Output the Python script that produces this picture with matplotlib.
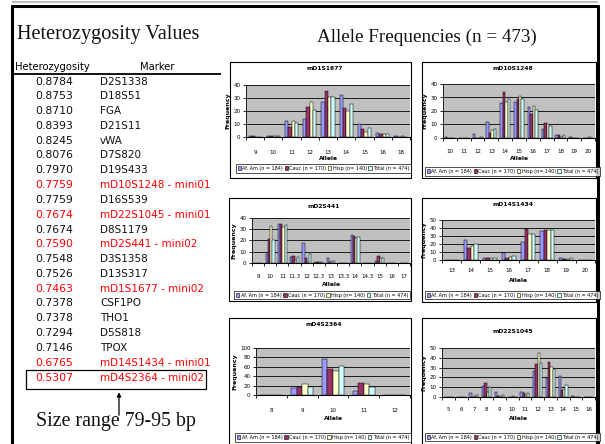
import matplotlib
matplotlib.use("Agg")
import matplotlib.pyplot as plt
from matplotlib.patches import Rectangle
from matplotlib.lines import Line2D
import numpy as np

W, H = 605, 444

# ---------------- table data ----------------
het_values = ["0.8784", "0.8753", "0.8710", "0.8393", "0.8245", "0.8076", "0.7970",
              "0.7759", "0.7759", "0.7674", "0.7674", "0.7590", "0.7548", "0.7526",
              "0.7463", "0.7378", "0.7378", "0.7294", "0.7146", "0.6765", "0.5307"]
het_markers = ["D2S1338", "D18S51", "FGA", "D21S11", "vWA", "D7S820", "D19S433",
               "mD10S1248 - mini01", "D16S539", "mD22S1045 - mini01", "D8S1179",
               "mD2S441 - mini02", "D3S1358", "D13S317", "mD1S1677 - mini02",
               "CSF1PO", "THO1", "D5S818", "TPOX", "mD14S1434 - mini01",
               "mD4S2364 - mini02"]

series_names = ["Af. Am (n = 184)", "Cauc (n = 170)", "Hisp (n= 140)", "Total (n = 474)"]

# ---------------- chart data ----------------
d1s1677_alleles = ["9", "10", "11", "12", "13", "14", "15", "16", "18"]
d1s1677_afam = [0.5, 0.5, 12, 14, 27, 32, 10, 3, 0.5]
d1s1677_cauc = [0.5, 1, 8, 23, 35, 22, 6, 2, 0.3]
d1s1677_hisp = [0.3, 1, 12, 27, 31, 20, 4, 2, 0.5]
d1s1677_total = [0.3, 0.5, 11, 21, 31, 25, 7, 2, 0.3]

d10s1248_alleles = ["10", "11", "12", "13", "14", "15", "16", "17", "18", "19", "20"]
d10s1248_afam = [0.5, 0.3, 3, 12, 26, 27, 23, 7, 2, 0.5, 0]
d10s1248_cauc = [0.3, 0, 0, 4, 34, 29, 18, 11, 2, 0, 0]
d10s1248_hisp = [0, 0, 0, 6, 27, 31, 24, 10, 1, 0, 0.5]
d10s1248_total = [0.3, 0, 1, 7, 29, 29, 21, 9, 2, 0.3, 0.3]

d2s441_alleles = ["9", "10", "11", "11.3", "12", "12.3", "13", "13.3", "14", "14.3", "15", "16", "17"]
d2s441_afam = [0.3, 8, 35, 5, 18, 0.5, 4, 0, 25, 0, 2, 0.3, 0]
d2s441_cauc = [0, 21, 35, 6, 4, 0.5, 1, 0, 24, 0, 6, 0, 0]
d2s441_hisp = [0, 33, 32, 3, 1, 0.5, 2, 0, 22, 0, 4, 0, 0.3]
d2s441_total = [0.2, 20, 34, 5, 8, 0.5, 2, 0.3, 23, 0.3, 4, 0.2, 0.2]

d14s1434_alleles = ["13", "14", "15", "16", "17", "18", "19", "20"]
d14s1434_afam = [0.5, 25, 2, 9, 23, 36, 2, 0]
d14s1434_cauc = [0, 15, 3, 2, 39, 38, 1, 0.5]
d14s1434_hisp = [0.5, 18, 3, 4, 33, 38, 1, 0]
d14s1434_total = [0.5, 20, 3, 5, 32, 37, 2, 0.5]

d4s2364_alleles = ["8", "9", "10", "11", "12"]
d4s2364_afam = [0, 14, 77, 8, 0]
d4s2364_cauc = [0, 17, 55, 26, 0]
d4s2364_hisp = [0, 23, 52, 23, 0]
d4s2364_total = [0, 17, 62, 18, 0]

d22s1045_alleles = ["5", "6", "7", "8", "9", "10", "11", "12", "13", "14", "15", "16"]
d22s1045_afam = [0.5, 0, 4, 11, 5, 0.5, 5, 27, 19, 21, 1, 0]
d22s1045_cauc = [0, 0, 0, 14, 1, 0.5, 4, 34, 36, 7, 0, 0]
d22s1045_hisp = [0, 0, 1, 5, 1, 1, 2, 45, 31, 8, 0.5, 0.5]
d22s1045_total = [0, 0, 2, 10, 2, 0.5, 4, 35, 29, 12, 0.5, 0.3]

colors = ["#9999FF", "#993366", "#FFFFCC", "#CCFFFF"]

fig = plt.figure(figsize=(W / 100, H / 100), dpi=100)
fig.patch.set_facecolor("white")


def fx(x):
    return x / W


def fy(y):
    return 1 - y / H


def fline(x0, y0, x1, y1, lw=1.0, color="black"):
    fig.add_artist(Line2D([fx(x0), fx(x1)], [fy(y0), fy(y1)], lw=lw, color=color,
                          transform=fig.transFigure, solid_capstyle="butt"))


def frect(x0, y0, x1, y1, lw=0.8):
    fig.add_artist(Rectangle((fx(x0), fy(y1)), fx(x1) - fx(x0), fy(y0) - fy(y1),
                             fill=False, lw=lw, edgecolor="black",
                             transform=fig.transFigure))


# outer slide frame
fline(12, 2, 598, 2, lw=1.2, color="#b0b0b0")
fline(11, 6, 599, 6, lw=2.2)
fline(12, 5, 12, 444, lw=2.2)
fline(598, 5, 598, 444, lw=2.2)

# headings
serif = ["Liberation Serif", "DejaVu Serif"]
fig.text(fx(17), fy(35), "Heterozygosity Values", family=serif, fontsize=14.6,
         ha="left", va="center", color="#111111")
fig.text(fx(426.5), fy(37), "Allele Frequencies (n = 473)", family=serif, fontsize=13.8,
         ha="center", va="center", color="#111111")

# table
fig.text(fx(15), fy(67), "Heterozygosity", fontsize=7.2, ha="left", va="center")
fig.text(fx(157), fy(67), "Marker", fontsize=7.2, ha="center", va="center")
fline(12, 74.5, 221, 74.5, lw=1.3)
for i, (v, m) in enumerate(zip(het_values, het_markers)):
    y = 81.5 + i * 14.8
    col = "#FF0000" if "mini" in m else "#111111"
    fig.text(fx(35), fy(y), v, fontsize=7.8, ha="left", va="center", color=col)
    fig.text(fx(100), fy(y), m, fontsize=7.5, ha="left", va="center", color=col)

frect(26, 370, 206, 389, lw=0.9)
fig.add_artist(matplotlib.patches.FancyArrowPatch(
    (fx(119), fy(418)), (fx(119), fy(389.5)), transform=fig.transFigure,
    arrowstyle="-|>", mutation_scale=6, lw=0.9, color="black"))
fig.text(fx(116), fy(421), "Size range 79-95 bp", family=serif, fontsize=14.3,
         ha="center", va="center", color="#111111")


def panel(frame, plot, title, title_y, ticks_y, allele_y, leg, cats, series, ymax, ystep):
    x0, y0, x1, y1 = frame
    frect(x0, y0, x1, y1, lw=0.8)
    fig.text(fx((x0 + x1) / 2 + 4), fy(title_y), title, fontsize=4.3, fontweight="bold",
             ha="center", va="center")
    px0, py0, px1, py1 = plot
    ax = fig.add_axes([fx(px0), fy(py1), fx(px1) - fx(px0), fy(py0) - fy(py1)])
    ax.set_facecolor("#C0C0C0")
    n = len(cats)
    xs = np.arange(n)
    bw = 0.18
    for j, vals in enumerate(series):
        ax.bar(xs + (j - 1.5) * bw, vals, width=bw, color=colors[j], edgecolor="black",
               linewidth=0.35, zorder=3, label=series_names[j])
    ax.set_xlim(-0.5, n - 0.5)
    ax.set_ylim(0, ymax)
    yt = np.arange(0, ymax + 0.1, ystep)
    ax.set_yticks(yt)
    ax.set_yticklabels([str(int(t)) for t in yt], fontsize=4)
    for t in yt[1:]:
        ax.axhline(t, color="black", lw=0.6, zorder=1)
    ax.set_xticks(np.arange(-0.5, n, 1.0))
    ax.set_xticklabels([])
    ax.set_xticks(xs, minor=True)
    ax.set_xticklabels(cats, minor=True, fontsize=4)
    ax.tick_params(axis="x", which="minor", length=0, pad=ticks_y - py1 - 3)
    ax.tick_params(axis="x", which="major", length=2.5, width=0.6, direction="out")
    ax.tick_params(axis="y", length=2.5, width=0.6, pad=1.5)
    for s in ("top", "right"):
        ax.spines[s].set_visible(False)
    ax.spines["left"].set_linewidth(0.6)
    ax.spines["bottom"].set_linewidth(0.8)
    ax.set_ylabel("Frequency", fontsize=4.5, fontweight="bold", labelpad=2)
    fig.text(fx((px0 + px1) / 2), fy(allele_y), "Allele", fontsize=4.3, fontweight="bold",
             ha="center", va="center")
    lx0, ly0, lx1, ly1 = leg
    hs = [Rectangle((0, 0), 1, 1, facecolor=c, edgecolor="black", lw=0.4) for c in colors]
    lg = fig.legend(hs, series_names, loc="center",
                    bbox_to_anchor=(fx((lx0 + lx1) / 2), fy((ly0 + ly1) / 2)),
                    ncol=4, fontsize=3.5, handlelength=0.7, handleheight=0.8,
                    columnspacing=0.35, handletextpad=0.25, borderpad=0.35,
                    frameon=True, fancybox=False, edgecolor="black")
    lg.get_frame().set_linewidth(0.6)
    return ax


panel((230, 62, 411, 178), (246, 85, 410, 137), "mD1S1677", 69, 149, 158,
      (239, 163, 408, 174), d1s1677_alleles,
      [d1s1677_afam, d1s1677_cauc, d1s1677_hisp, d1s1677_total], 40, 10)
panel((422, 62, 596, 178), (443, 84, 595, 138), "mD10S1248", 68, 149, 158,
      (432, 167, 593, 176), d10s1248_alleles,
      [d10s1248_afam, d10s1248_cauc, d10s1248_hisp, d10s1248_total], 40, 10)
panel((229, 198, 411, 301), (252, 218, 410, 263), "mD2S441", 206, 274, 284,
      (237, 291, 407, 299), d2s441_alleles,
      [d2s441_afam, d2s441_cauc, d2s441_hisp, d2s441_total], 40, 10)
panel((422, 198, 596, 302), (442, 220, 595, 260), "mD14S1434", 204, 269, 280,
      (432, 291, 593, 299), d14s1434_alleles,
      [d14s1434_afam, d14s1434_cauc, d14s1434_hisp, d14s1434_total], 50, 10)
panel((229, 318, 411, 460), (256, 348, 410, 395), "mD4S2364", 325, 407, 418,
      (239, 433, 407, 442), d4s2364_alleles,
      [d4s2364_afam, d4s2364_cauc, d4s2364_hisp, d4s2364_total], 100, 20)
panel((422, 318, 596, 460), (442, 348, 595, 397), "mD22S1045", 331, 407, 418,
      (432, 433, 593, 441), d22s1045_alleles,
      [d22s1045_afam, d22s1045_cauc, d22s1045_hisp, d22s1045_total], 50, 10)

fig.savefig("out.png", dpi=100)
